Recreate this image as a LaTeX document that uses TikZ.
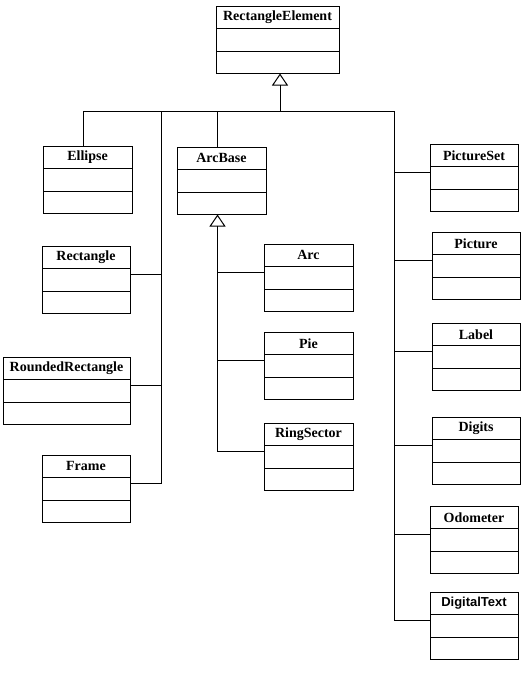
\documentclass[tikz,border=0pt]{standalone}
\usepackage{fontspec}
\setmainfont{Liberation Serif}
\newfontfamily\arialfont{Liberation Sans}
\usetikzlibrary{arrows.meta,positioning}
\tikzset{
  clshead/.style={draw,line width=1pt,outer sep=0pt,inner sep=0pt,minimum height=22.5pt,
                  anchor=north west,font=\fontsize{14}{16}\selectfont\bfseries},
  clsbox/.style={draw,line width=1pt,outer sep=0pt,inner sep=0pt,minimum height=22.5pt},
  link/.style={line width=1pt},
  inherit/.style={link,-{Triangle[open,length=12pt,width=16pt,line width=1pt]}},
}
\begin{document}
\begin{tikzpicture}[x=1pt,y=-1pt]
  \useasboundingbox (0,0) rectangle (526,675);
  % classes: name/text/left/top/width, each with two empty compartments
  \foreach \n/\t/\x/\y/\w in {RectangleElement/RectangleElement/216/6/123,
      Ellipse/Ellipse/43/146/89, Rectangle/Rectangle/42/246/88,
      RoundedRectangle/RoundedRectangle/3/357/127, Frame/Frame/42/455/88,
      ArcBase/ArcBase/177/147/89, Arc/Arc/264/244/89, Pie/Pie/264/332/89,
      RingSector/RingSector/264/423/89, PictureSet/PictureSet/430/144/88,
      Picture/Picture/432/232/88, Label/Label/432/323/88, Digits/Digits/432/417/88,
      Odometer/Odometer/430/506/88, DigitalText/{\arialfont\fontsize{13}{15}\selectfont DigitalText}/430/592/88} {
    \node[clshead,minimum width=\w pt] (\n) at (\x,\y) {\t};
    \node[clsbox,minimum width=\w pt,below=0pt of \n] (\n-1) {};
    \node[clsbox,minimum width=\w pt,below=0pt of \n-1] (\n-2) {};
    \coordinate (\n-p) at ([yshift=-6pt]\n-1.north west);
    \coordinate (\n-q) at ([yshift=-6pt]\n-1.north east);
  }
  % tree of generalisations
  \coordinate (bus) at (280,111);
  \coordinate (busR) at (394,111);
  \coordinate (trunkL) at (161,111);
  \coordinate (abTop) at ([xshift=-4pt]ArcBase.north);
  \coordinate (abBot) at ([xshift=-4pt]ArcBase-2.south);
  \draw[inherit] (bus) -- (bus |- RectangleElement-2.south);
  \draw[link] ([xshift=-4pt]Ellipse.north) |- (busR);
  \draw[link] (abTop) -- (abTop |- busR);
  % left trunk
  \draw[link] (trunkL) |- (Frame-q);
  \foreach \n in {Rectangle,RoundedRectangle} \draw[link] (\n-q) -- (\n-q -| trunkL);
  % ArcBase subclasses
  \draw[inherit] (abBot |- RingSector-p) -- (abBot);
  \draw[link] (RingSector-p) -- (RingSector-p -| abBot);
  \foreach \n in {Arc,Pie} \draw[link] (\n-p) -- (\n-p -| abBot);
  % right trunk
  \draw[link] (busR) |- (DigitalText-p);
  \foreach \n in {PictureSet,Picture,Label,Digits,Odometer} \draw[link] (\n-p) -- (\n-p -| busR);
\end{tikzpicture}
\end{document}
